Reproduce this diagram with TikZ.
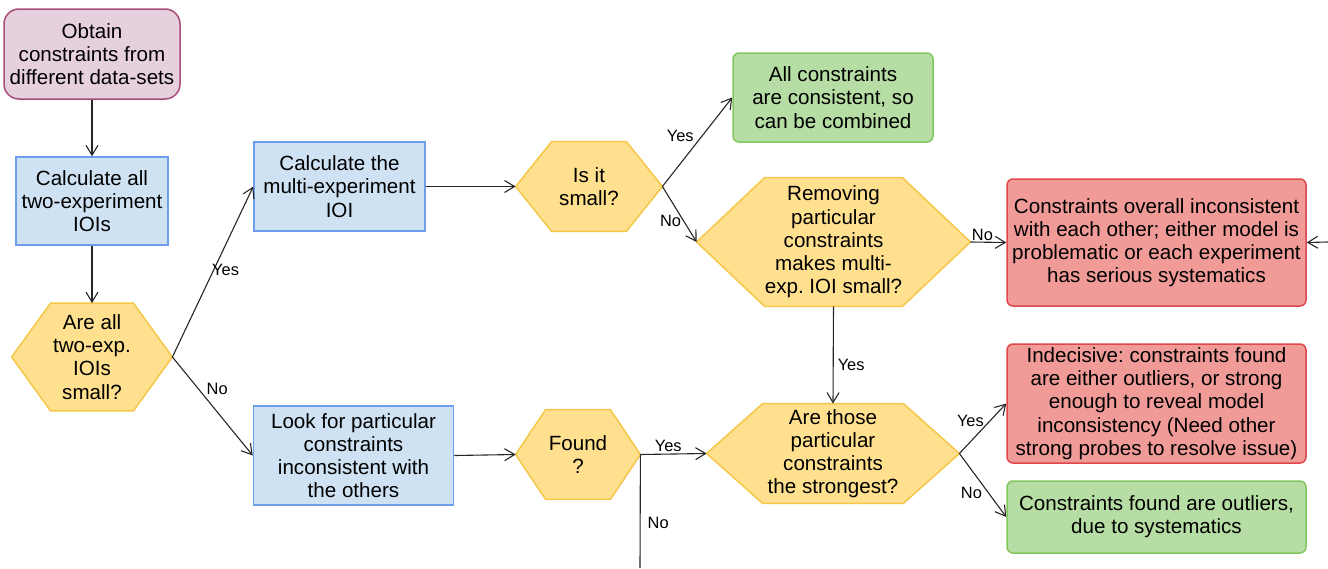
\documentclass[tikz,border=0pt]{standalone}
\usepackage{fontspec}
\setmainfont{Liberation Sans}
\usetikzlibrary{arrows.meta,backgrounds}
\definecolor{startfill}{HTML}{E6D0DE}
\definecolor{startline}{HTML}{A64D79}
\definecolor{calcfill}{HTML}{CFE2F3}
\definecolor{calcline}{HTML}{6D9EEB}
\definecolor{askfill}{HTML}{FFE08F}
\definecolor{askline}{HTML}{F5C748}
\definecolor{goodfill}{HTML}{B6DDA3}
\definecolor{goodline}{HTML}{82C660}
\definecolor{badfill}{HTML}{F09B98}
\definecolor{badline}{HTML}{E0474A}
\frenchspacing
\begin{document}
\begin{tikzpicture}
[x=0.5pt,y=-0.5pt,
  every node/.style={font=\fontsize{10.3}{11.6}\selectfont,align=center,inner sep=0pt},%
  startdecorate/.style={shape=rectangle,rounded corners=7.5pt,draw=startline,fill=startfill,line width=0.75pt},%
  calcdecorate/.style={shape=rectangle,draw=calcline,fill=calcfill,line width=0.75pt},%
  gooddecorate/.style={shape=rectangle,rounded corners=3pt,draw=goodline,fill=goodfill,line width=0.75pt},%
  baddecorate/.style={shape=rectangle,rounded corners=3pt,draw=badline,fill=badfill,line width=0.75pt},%
  askdecorate/.style={shape=rectangle},%
  hexdecorate/.style={draw=askline,fill=askfill,line width=0.75pt,line join=miter},%
  linedecorate/.style={-{Straight Barb[length=5pt,width=6pt]},line width=0.55pt,draw=black!85},%
  lbl/.style={font=\fontsize{8.2}{9}\selectfont,inner sep=0pt}]
\useasboundingbox (0,0) rectangle (1328,568);
%% boxes
\node (obtain) at (92,54) [startdecorate,minimum width=88pt,minimum height=45pt]
  {Obtain\\constraints from\\different data-sets};
\node (calcall) at (92,201) [calcdecorate,minimum width=76pt,minimum height=44pt]
  {Calculate all\\two-experiment\\IOIs};
\node (calcmulti) at (339.5,186.5) [calcdecorate,minimum width=85.5pt,minimum height=44.5pt]
  {Calculate the\\multi-experiment\\IOI};
\node (lookfor) at (353.5,455.5) [calcdecorate,minimum width=100pt,minimum height=49.5pt]
  {Look for particular\\constraints\\inconsistent with\\the others};
\node (combined) at (833,97.5) [gooddecorate,minimum width=100pt,minimum height=44.5pt]
  {All constraints\\are consistent, so\\can be combined};
\node (overall) at (1156.5,242.5) [baddecorate,minimum width=149.5pt,minimum height=63.5pt]
  {Constraints overall inconsistent\\with each other; either model is\\problematic or each experiment\\has serious systematics};
\node (indecisive) at (1156.5,403.5) [baddecorate,minimum width=149.5pt,minimum height=59.5pt]
  {Indecisive: constraints found\\are either outliers, or strong\\enough to reveal model\\inconsistency (Need other\\strong probes to resolve issue)};
\node (outliers) at (1156.5,517) [gooddecorate,minimum width=149.5pt,minimum height=36pt]
  {Constraints found are outliers,\\due to systematics};
%% questions
\node (allsmall) at (92,357) [askdecorate,minimum width=80pt,minimum height=53.5pt]
  {Are all\\two-exp.\\IOIs\\small?};
\node (issmall) at (589,186.5) [askdecorate,minimum width=73pt,minimum height=44.5pt]
  {Is it\\small?};
\node (removing) at (833.5,242) [askdecorate,minimum width=136.5pt,minimum height=64pt]
  {Removing\\particular\\constraints\\makes multi-\\exp. IOI small?};
\node (strongest) at (833,453.5) [askdecorate,minimum width=126pt,minimum height=49.5pt]
  {Are those\\particular\\constraints\\the strongest?};
\node (found) at (578,454.5) [askdecorate,minimum width=62pt,minimum height=44.5pt]
  {Found\\?};
\begin{scope}[on background layer]
\foreach \hexname/\slant in {allsmall/19.5, issmall/18, removing/34, strongest/28, found/15} {
  \path[hexdecorate] (\hexname.west) -- ([xshift=\slant pt]\hexname.north west)
    -- ([xshift=-\slant pt]\hexname.north east) -- (\hexname.east)
    -- ([xshift=-\slant pt]\hexname.south east) -- ([xshift=\slant pt]\hexname.south west) -- cycle;
}
\end{scope}
%% loose ends
\coordinate (nofound) at (640,568);
\coordinate (fromright) at (1328,242);
%% edges or lines
\path
\foreach \startnode/\endnode in {obtain.south/calcall.north, calcall.south/allsmall.north,
  calcmulti.east/issmall.west, lookfor.east/found.west, fromright/overall.east} {
  (\startnode) edge[linedecorate] (\endnode)
};
\draw[linedecorate] (allsmall.east) -- node[lbl,pos=0.51,anchor=west,xshift=-1pt] {Yes} (calcmulti.west);
\draw[linedecorate] (allsmall.east) -- node[lbl,pos=0.32,anchor=west,xshift=4pt] {No} (lookfor.west);
\draw[linedecorate] (issmall.east) -- node[lbl,pos=0.57,anchor=east,xshift=-4pt] {Yes} (combined.west);
\draw[linedecorate] (issmall.east) -- node[lbl,pos=0.62,anchor=east,xshift=-1pt] {No} (removing.west);
\draw[linedecorate] (removing.east) -- node[lbl,pos=0,anchor=south west,xshift=0.5pt,yshift=0.5pt] {No} (overall.west);
\draw[linedecorate] (removing.south) -- node[lbl,pos=0.6,anchor=west,xshift=2pt] {Yes} (strongest.north);
\draw[linedecorate] (found.east) -- node[lbl,pos=0.42,anchor=south,yshift=1pt] {Yes} (strongest.west);
\draw[line width=0.55pt,draw=black!85] (found.east) -- node[lbl,pos=0.6,anchor=west,xshift=3.5pt] {No} (nofound);
\draw[linedecorate] (strongest.east) -- node[lbl,pos=0.66,anchor=east,xshift=-3pt] {Yes} (indecisive.west);
\draw[linedecorate] (strongest.east) -- node[lbl,pos=0.62,anchor=east,xshift=-3pt] {No} (outliers.west);
\end{tikzpicture}
\end{document}
